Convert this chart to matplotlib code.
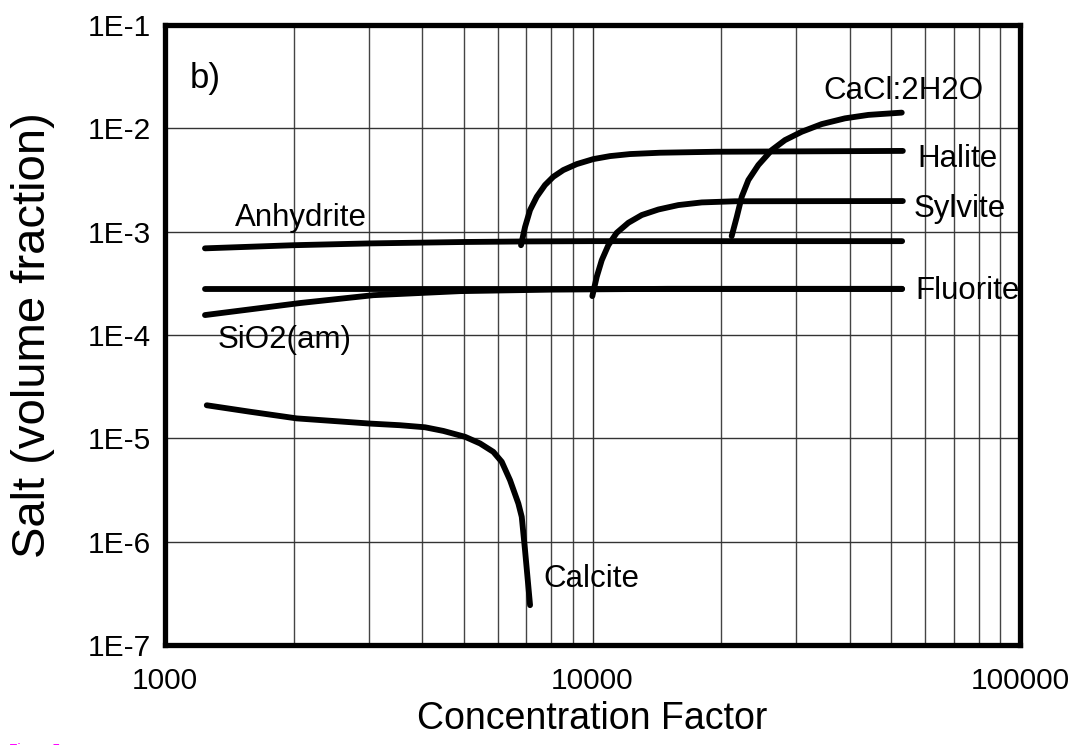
import numpy as np
import matplotlib
matplotlib.use('Agg')
import matplotlib.pyplot as plt
from matplotlib.ticker import LogLocator, FixedLocator, NullFormatter

plt.rcParams['font.family'] = ['Liberation Sans', 'DejaVu Sans']

# curves (concentration factor, volume fraction)
anhydrite_x = [1240, 2000, 3000, 5000, 7000, 10000, 53000]
anhydrite_y = [6.9e-4, 7.4e-4, 7.7e-4, 7.95e-4, 8.05e-4, 8.1e-4, 8.1e-4]

fluorite_x = [1240, 53000]
fluorite_y = [2.78e-4, 2.78e-4]

sio2_x = [1240, 2070, 3070, 4900, 8000, 15000, 53000]
sio2_y = [1.56e-4, 2.04e-4, 2.43e-4, 2.66e-4, 2.75e-4, 2.8e-4, 2.8e-4]

halite_x = [6803, 6952, 7143, 7406, 7742, 8095, 8545, 9185, 10040, 10990,
            12240, 14380, 19540, 53200]
halite_y = [7.4e-4, 1.11e-3, 1.62e-3, 2.18e-3, 2.83e-3, 3.40e-3, 3.95e-3,
            4.51e-3, 5.04e-3, 5.39e-3, 5.64e-3, 5.81e-3, 5.94e-3, 6.05e-3]

sylvite_x = [9989, 10230, 10510, 10890, 11390, 12130, 13040, 14260, 15880,
             18010, 21540, 53200]
sylvite_y = [2.38e-4, 3.66e-4, 5.30e-4, 7.41e-4, 9.75e-4, 1.22e-3, 1.45e-3,
             1.64e-3, 1.81e-3, 1.92e-3, 1.97e-3, 1.98e-3]

cacl_x = [21160, 21750, 22340, 23150, 24430, 26260, 28200, 30860, 34370,
          38950, 44190, 52890]
cacl_y = [9.06e-4, 1.39e-3, 2.18e-3, 3.16e-3, 4.42e-3, 6.17e-3, 7.70e-3,
          9.27e-3, 1.10e-2, 1.25e-2, 1.35e-2, 1.42e-2]

calcite_x = [1252, 1580, 2033, 3017, 3545, 4057, 4477, 5033, 5456, 5861,
             6133, 6412, 6707, 6830, 6952, 7143]
calcite_y = [2.09e-5, 1.81e-5, 1.56e-5, 1.39e-5, 1.34e-5, 1.28e-5, 1.18e-5,
             1.035e-5, 8.93e-6, 7.40e-6, 5.93e-6, 3.94e-6, 2.34e-6, 1.74e-6,
             8.28e-7, 2.43e-7]

x_ticks = [1000, 10000, 100000]
x_ticklabels = ['1000', '10000', '100000']
y_ticks = [1e-7, 1e-6, 1e-5, 1e-4, 1e-3, 1e-2, 1e-1]
y_ticklabels = ['1E-7', '1E-6', '1E-5', '1E-4', '1E-3', '1E-2', '1E-1']

fig = plt.figure(figsize=(10.78, 7.45), dpi=100)
ax = fig.add_axes([0.1531, 0.1342, 0.7931, 0.8322])

lw = 4.2
for xs, ys in [(anhydrite_x, anhydrite_y), (fluorite_x, fluorite_y),
               (sio2_x, sio2_y), (halite_x, halite_y), (sylvite_x, sylvite_y),
               (cacl_x, cacl_y), (calcite_x, calcite_y)]:
    ax.plot(xs, ys, color='black', lw=lw, solid_capstyle='round',
            solid_joinstyle='round', zorder=3)

ax.set_xscale('log')
ax.set_yscale('log')
ax.set_xlim(1000, 100000)
ax.set_ylim(1e-7, 1e-1)

ax.xaxis.set_major_locator(FixedLocator(x_ticks))
ax.xaxis.set_minor_locator(LogLocator(base=10, subs=np.arange(2, 10)))
ax.xaxis.set_minor_formatter(NullFormatter())
ax.set_xticklabels(x_ticklabels)
ax.yaxis.set_major_locator(FixedLocator(y_ticks))
ax.yaxis.set_minor_locator(FixedLocator([]))
ax.set_yticklabels(y_ticklabels)

ax.grid(True, which='major', color='#333333', lw=1.0)
ax.grid(True, which='minor', axis='x', color='#444444', lw=1.0)
ax.tick_params(which='both', length=0, labelsize=21.5)
ax.tick_params(axis='x', pad=16)
ax.tick_params(axis='y', pad=10)

for s in ax.spines.values():
    s.set_linewidth(3.8)
    s.set_zorder(4)

ax.set_xlabel('Concentration Factor', fontsize=27, labelpad=4)
ax.set_ylabel('Salt (volume fraction)', fontsize=34, labelpad=24)

fs = 22.5
ax.text(1144, 2.45e-2, 'b)', fontsize=25)
ax.text(1458, 1.13e-3, 'Anhydrite', fontsize=fs)
ax.text(1330, 7.46e-5, 'SiO2(am)', fontsize=fs)
ax.text(57400, 4.22e-3, 'Halite', fontsize=fs)
ax.text(56500, 1.38e-3, 'Sylvite', fontsize=fs)
ax.text(56800, 2.23e-4, 'Fluorite', fontsize=fs)
ax.text(34600, 1.92e-2, 'CaCl:2H2O', fontsize=fs)
ax.text(7660, 3.63e-7, 'Calcite', fontsize=fs)

fig.text(0.008, -0.016, 'Figure 5', color='magenta', fontsize=10, va='bottom')

fig.savefig('out.png', dpi=100)
